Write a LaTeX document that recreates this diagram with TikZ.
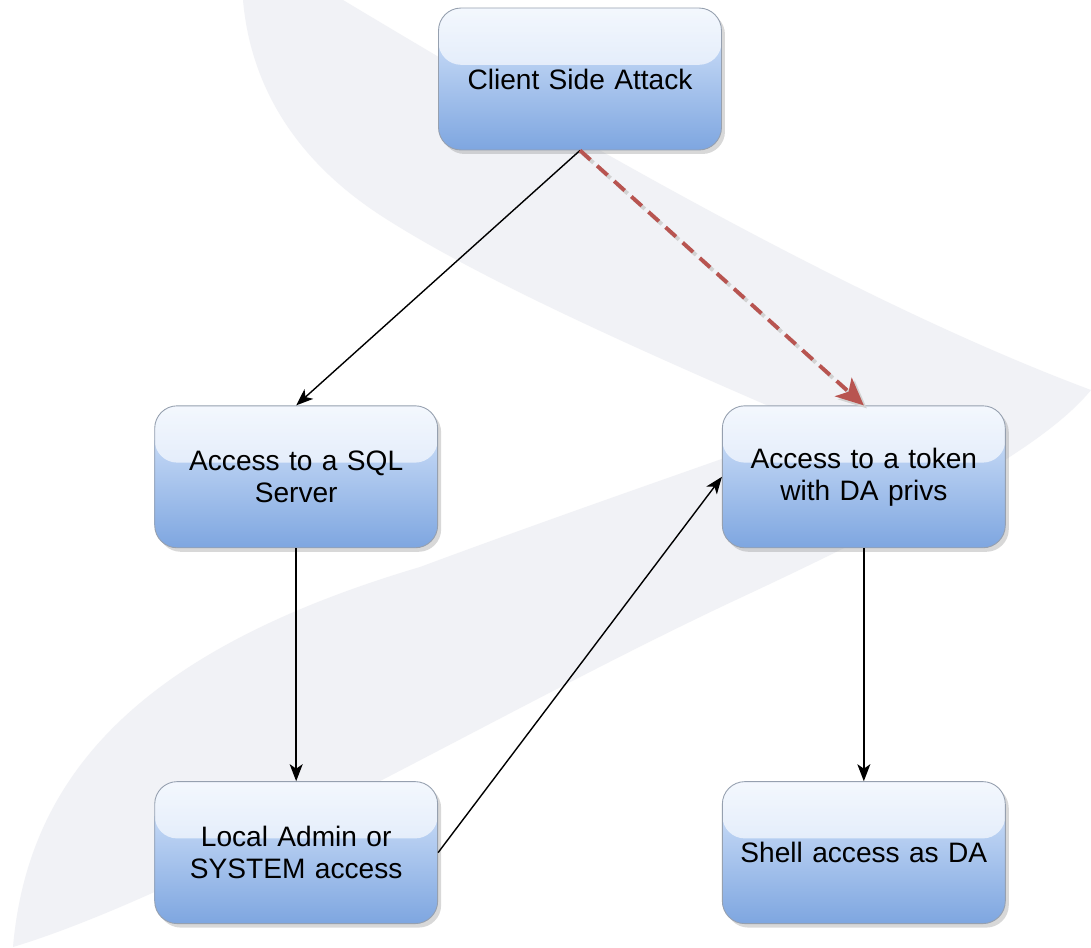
\documentclass[tikz,border=0pt]{standalone}
\usepackage{fontspec}
\setmainfont{Liberation Sans}
\usetikzlibrary{arrows.meta,positioning,shadows,calc}

\definecolor{ribbon}{RGB}{241,242,246}
\definecolor{boxtop}{RGB}{218,232,252}
\definecolor{boxbottom}{RGB}{126,166,224}
\definecolor{boxline}{RGB}{150,160,175}
\definecolor{dashred}{RGB}{184,84,80}

\begin{document}
\begin{tikzpicture}
[x=0.02cm, y=-0.02cm,
 stepbox/.style={rectangle, rounded corners=0.45cm, draw=boxline, line width=0.5pt,
   top color=boxtop, bottom color=boxbottom,
   minimum width=5.66cm, minimum height=2.84cm, text width=5.2cm, align=center,
   font=\fontsize{16}{18.3}\selectfont,
   drop shadow={shadow xshift=0.07cm, shadow yshift=-0.08cm, opacity=0.3},
   path picture={\shade[top color=white, bottom color=white!60!boxtop, opacity=0.7]
     (path picture bounding box.north west)
     rectangle ($(path picture bounding box.north east)!0.4!(path picture bounding box.south east)$);}},
 flow/.style={draw=black, line width=0.8pt, -{Stealth[length=0.34cm, width=0.26cm, inset=0.09cm]}},
 attack/.style={draw=dashred, line width=2.2pt, dash pattern=on 0.28cm off 0.18cm,
   -{Stealth[length=0.55cm, width=0.5cm, inset=0.14cm]}}]

  \useasboundingbox (0,0) rectangle (1091,947);
  \fill[white] (0,0) rectangle (1091,947);

  % background ribbon
  \fill[ribbon] (343,0) .. controls (560,130) and (850,300) .. (1091,390)
    .. controls (1050,440) and (950,500) .. (740,598)
    .. controls (500,710) and (200,890) .. (13,947)
    .. controls (28,775) and (140,650) .. (420,567)
    .. controls (560,515) and (700,467) .. (815,426)
    .. controls (650,355) and (480,280) .. (380,215)
    .. controls (290,156) and (250,80) .. (243,0) -- cycle;

  \node[stepbox] (Client) at (580,79) {Client Side Attack};
  \node[stepbox, below left=5.1cm and 0cm of Client] (SqlServer) {Access to a SQL\\Server};
  \node[stepbox, below right=5.1cm and 0cm of Client] (Token) {Access to a token\\with DA privs};
  \node[stepbox, below=4.66cm of SqlServer] (LocalAdmin) {Local Admin or\\SYSTEM access};
  \node[stepbox, below=4.66cm of Token] (Shell) {Shell access as DA};

  \draw[flow] (Client.south) -- (SqlServer.north);
  \draw[attack, draw=gray!35, transform canvas={xshift=0.06cm, yshift=-0.06cm}] (Client.south) -- (Token.north);
  \draw[attack] (Client.south) -- (Token.north);
  \draw[flow] (SqlServer.south) -- (LocalAdmin.north);
  \draw[flow] (LocalAdmin.east) -- (Token.west);
  \draw[flow] (Token.south) -- (Shell.north);
\end{tikzpicture}
\end{document}
